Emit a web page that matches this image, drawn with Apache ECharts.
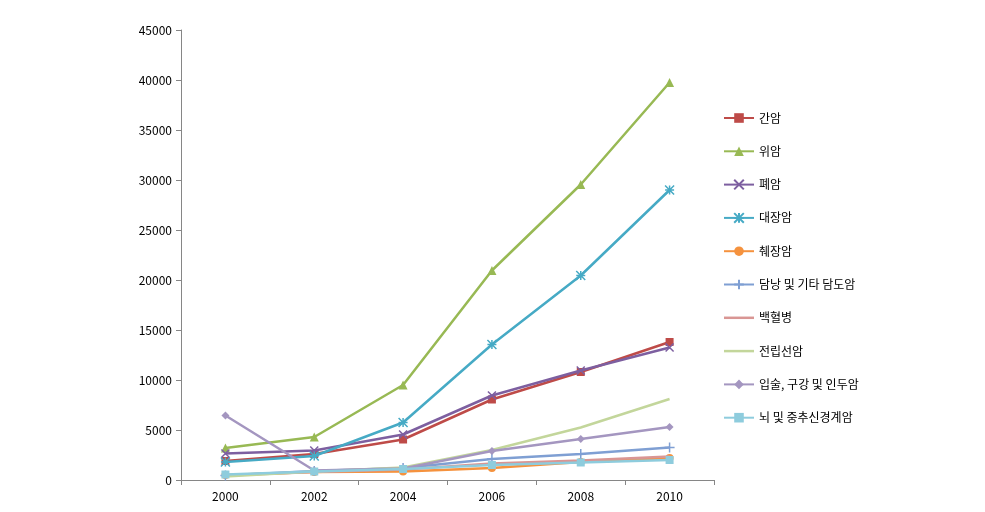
<!DOCTYPE html>
<html><head><meta charset="utf-8">
<script src="https://cdn.jsdelivr.net/npm/echarts@6/dist/echarts.min.js"></script>
<style>html,body{margin:0;padding:0;background:#fff}#c{width:985px;height:512px}</style>
</head><body><div id="c"></div>
<script>
const categories = ['2000','2002','2004','2006','2008','2010'];
const seriesNames = ['간암','위암','폐암','대장암','췌장암','담낭 및 기타 담도암','백혈병','전립선암','입술, 구강 및 인두암','뇌 및 중추신경계암'];
const liver    = [1900, 2600, 4050, 8050, 10800, 13800];
const stomach  = [3200, 4300, 9500, 20950, 29550, 39750];
const lung     = [2650, 2950, 4550, 8450, 10950, 13250];
const colon    = [1800, 2400, 5750, 13550, 20450, 29000];
const pancreas = [500, 800, 850, 1200, 1800, 2200];
const gallbl   = [450, 900, 1200, 2100, 2600, 3250];
const leukemia = [450, 800, 1050, 1650, 1950, 2350];
const prostate = [350, 850, 1250, 3000, 5250, 8100];
const lip      = [6450, 950, 1150, 2900, 4100, 5300];
const brain    = [550, 850, 1100, 1500, 1750, 2000];
const yTicks = [0, 5000, 10000, 15000, 20000, 25000, 30000, 35000, 40000, 45000];

const values = [liver, stomach, lung, colon, pancreas, gallbl, leukemia, prostate, lip, brain];
const colors = ['#BE4B48','#98B954','#7D5FA0','#46AAC5','#F5923E','#7F9FD3','#D99694','#C3D69B','#A496C0','#8ECCDD'];
const symbols = ['rect','triangle','path://M0,0L10,10M10,0L0,10','path://M0,0L10,10M10,0L0,10M5,0L5,10M0,5L10,5','circle','path://M5,0L5,10M0,5L10,5','none','none','diamond','rect'];
const sizes = [8,9,8,9,8,10,0,0,8,8];

const font = '"Noto Sans CJK KR", "DejaVu Sans", sans-serif';
const series = seriesNames.map((n,i)=>({
  name:n, type:'line', data:values[i],
  symbol:symbols[i], symbolSize:sizes[i], showSymbol: symbols[i] !== 'none',
  lineStyle:{color:colors[i], width:2.5},
  itemStyle:{color:colors[i], borderColor:colors[i], borderWidth: symbols[i].startsWith('path')?1.5:0},
  z: 2 + i,
  animation:false
}));

const legendData = seriesNames.map((n,i)=> symbols[i]==='none'
  ? {name:n, icon:'path://M0,0L30,0L30,2.5L0,2.5Z'}
  : {name:n});

const chart = echarts.init(document.getElementById('c'));
chart.setOption({
  backgroundColor:'#fff',
  animation:false,
  grid:{left:181, right:271, top:30, bottom:32, containLabel:false},
  legend:{
    orient:'vertical', left:718, top:107, itemGap:21.3, itemWidth:30, itemHeight:12,
    textStyle:{fontFamily:font, fontSize:12, color:'#000'},
    data:legendData
  },
  xAxis:{
    type:'category', data:categories, boundaryGap:true,
    axisLine:{lineStyle:{color:'#868686', width:1}},
    axisTick:{show:true, inside:false, length:5, alignWithLabel:false, lineStyle:{color:'#868686'}},
    axisLabel:{fontFamily:font, fontSize:12, color:'#000', margin:10}
  },
  yAxis:{
    type:'value', min:yTicks[0], max:yTicks[yTicks.length-1], interval:5000,
    axisLine:{show:true, lineStyle:{color:'#868686', width:1}},
    axisTick:{show:true, length:5, lineStyle:{color:'#868686'}},
    splitLine:{show:false},
    axisLabel:{fontFamily:font, fontSize:12, color:'#000', margin:9, formatter:(v)=>String(v)}
  },
  series:series
});
</script></body></html>
